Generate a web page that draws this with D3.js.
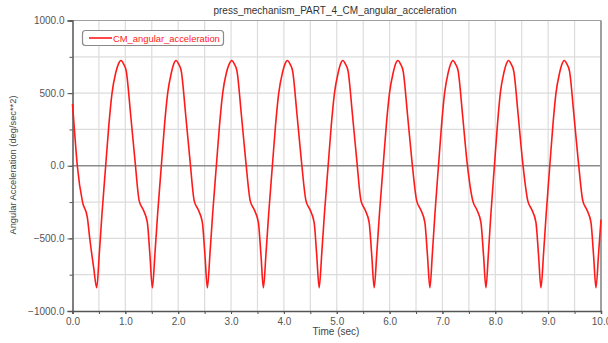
<!DOCTYPE html>
<html>
<head>
<meta charset="utf-8">
<script src="https://cdn.jsdelivr.net/npm/d3@7"></script>
<style>
  body { margin: 0; background: #fff; }
  svg { display: block; font-family: "Liberation Sans", Arial, sans-serif; }
</style>
</head>
<body>
<svg id="chart" width="608" height="343"></svg>
<script>
// values (time in sec, angular acceleration in deg/sec**2)
const times = [
  0.000, 0.040, 0.091, 0.190, 0.280, 0.330, 0.400, 0.458,
  0.508, 0.558, 0.628, 0.688, 0.748, 0.818, 0.868, 0.918,
  0.968, 1.018, 1.098, 1.183, 1.261, 1.341, 1.416, 1.466, 1.511,
  1.561, 1.611, 1.681, 1.741, 1.801, 1.871, 1.915, 1.959,
  2.009, 2.059, 2.139, 2.224, 2.302, 2.382, 2.457, 2.507, 2.552,
  2.602, 2.652, 2.722, 2.782, 2.842, 2.912, 2.965, 3.013,
  3.063, 3.113, 3.193, 3.278, 3.362, 3.442, 3.517, 3.567, 3.612,
  3.662, 3.712, 3.782, 3.842, 3.902, 3.972, 4.020, 4.066,
  4.116, 4.166, 4.246, 4.331, 4.417, 4.497, 4.572, 4.622, 4.667,
  4.717, 4.767, 4.837, 4.897, 4.957, 5.027, 5.071, 5.115,
  5.165, 5.215, 5.295, 5.380, 5.458, 5.538, 5.613, 5.663, 5.708,
  5.758, 5.808, 5.878, 5.938, 5.998, 6.068, 6.112, 6.157,
  6.207, 6.257, 6.337, 6.422, 6.512, 6.592, 6.667, 6.717, 6.762,
  6.810, 6.858, 6.925, 6.983, 7.040, 7.108, 7.155, 7.198,
  7.248, 7.298, 7.378, 7.463, 7.573, 7.653, 7.728, 7.778, 7.823,
  7.870, 7.917, 7.983, 8.040, 8.095, 8.162, 8.208, 8.250,
  8.300, 8.350, 8.430, 8.515, 8.614, 8.694, 8.769, 8.819, 8.864,
  8.914, 8.963, 9.031, 9.090, 9.148, 9.217, 9.262, 9.305,
  9.355, 9.405, 9.485, 9.570, 9.655, 9.735, 9.810, 9.860, 9.905,
  9.955, 10.000
];
const accel = [
  425, 230, 0, -250, -353, -511, -700, -840,
  -600, -330, 0, 280, 500, 640, 700, 725,
  700, 650, 360, 34, -240, -305, -390, -620, -840,
  -600, -330, 0, 280, 500, 640, 700, 725,
  700, 650, 360, 34, -240, -305, -390, -620, -840,
  -600, -330, 0, 280, 500, 640, 700, 725,
  700, 650, 360, 34, -240, -305, -390, -620, -840,
  -600, -330, 0, 280, 500, 640, 700, 725,
  700, 650, 360, 34, -240, -305, -390, -620, -840,
  -600, -330, 0, 280, 500, 640, 700, 725,
  700, 650, 360, 34, -240, -305, -390, -620, -840,
  -600, -330, 0, 280, 500, 640, 700, 725,
  700, 650, 360, 34, -240, -305, -390, -620, -840,
  -600, -330, 0, 280, 500, 640, 700, 725,
  700, 650, 360, 34, -240, -305, -390, -620, -840,
  -600, -330, 0, 280, 500, 640, 700, 725,
  700, 650, 360, 34, -240, -305, -390, -620, -840,
  -600, -330, 0, 280, 500, 640, 700, 725,
  700, 650, 360, 34, -240, -305, -390, -620, -840,
  -600, -370
];
const xTicks = [0, 1, 2, 3, 4, 5, 6, 7, 8, 9, 10];
const xMinor = [0, 0.5, 1, 1.5, 2, 2.5, 3, 3.5, 4, 4.5, 5, 5.5, 6, 6.5, 7, 7.5, 8, 8.5, 9, 9.5, 10];
const yTicks = [-1000, -500, 0, 500, 1000];
const yMinor = [-1000, -750, -500, -250, 0, 250, 500, 750, 1000];
const seriesName = "CM_angular_acceleration";
const title = "press_mechanism_PART_4_CM_angular_acceleration";

const svg = d3.select("#chart");
const mLeft = 72.5, mRight = 601, mTop = 20.5, mBottom = 311;

const x = d3.scaleLinear().domain([0, 10]).range([mLeft, mRight]);
const y = d3.scaleLinear().domain([-1000, 1000]).range([mBottom, mTop]);

// grid
svg.append("g").selectAll("line").data(xMinor.slice(1, -1)).join("line")
  .attr("x1", d => x(d)).attr("x2", d => x(d))
  .attr("y1", mTop).attr("y2", mBottom)
  .attr("stroke", "#dcdcdc").attr("stroke-width", 1.2);
svg.append("g").selectAll("line").data(yMinor.slice(1, -1)).join("line")
  .attr("x1", mLeft).attr("x2", mRight)
  .attr("y1", d => y(d)).attr("y2", d => y(d))
  .attr("stroke", d => d === 0 ? "#8c8c8c" : "#dcdcdc")
  .attr("stroke-width", d => d === 0 ? 1.4 : 1.2);

// frame top/right
svg.append("line").attr("x1", mLeft).attr("x2", mRight).attr("y1", mTop).attr("y2", mTop)
  .attr("stroke", "#a0a0a0").attr("stroke-width", 1.2);
svg.append("line").attr("x1", mRight).attr("x2", mRight).attr("y1", mTop).attr("y2", mBottom)
  .attr("stroke", "#a0a0a0").attr("stroke-width", 2);

// axes
svg.append("g").attr("transform", `translate(${mLeft},0)`)
  .call(d3.axisLeft(y).tickValues(yTicks).tickFormat(d3.format(".1f")).tickSize(5).tickPadding(3));
svg.append("g").attr("transform", `translate(${mLeft},0)`)
  .call(d3.axisLeft(y).tickValues(yMinor).tickFormat("").tickSize(3))
  .select(".domain").remove();
svg.append("g").attr("transform", `translate(0,${mBottom})`)
  .call(d3.axisBottom(x).tickValues(xTicks).tickFormat(d3.format(".1f")).tickSize(3).tickPadding(4));
svg.append("g").attr("transform", `translate(0,${mBottom})`)
  .call(d3.axisBottom(x).tickValues(xMinor).tickFormat("").tickSize(3))
  .select(".domain").remove();

svg.selectAll(".domain").attr("stroke", "#555").attr("stroke-width", 1.5);
svg.selectAll(".tick line").attr("stroke", "#555");
svg.selectAll(".tick text").attr("fill", "#555").style("font-size", "10px")
  .style("font-family", "'Liberation Sans', Arial, sans-serif");

// series
const pts = times.map((t, i) => [t, accel[i]]);
svg.append("path").datum(pts)
  .attr("fill", "none").attr("stroke", "#ff1a1a").attr("stroke-width", 1.6)
  .attr("stroke-linejoin", "round")
  .attr("d", d3.line().x(d => x(d[0])).y(d => y(d[1])).curve(d3.curveMonotoneX));

// title and labels
svg.append("text").attr("x", 335).attr("y", 14).attr("text-anchor", "middle")
  .attr("fill", "#333").style("font-size", "10px").text(title);
svg.append("text").attr("x", 336).attr("y", 335).attr("text-anchor", "middle")
  .attr("fill", "#444").style("font-size", "10px").text("Time (sec)");
svg.append("text").attr("transform", "translate(16,165) rotate(-90)").attr("text-anchor", "middle")
  .attr("fill", "#444").style("font-size", "9.3px").text("Angular Acceleration (deg/sec**2)");

// legend
const lg = svg.append("g");
lg.append("rect").attr("x", 82.5).attr("y", 30.5).attr("width", 141).attr("height", 15)
  .attr("rx", 3).attr("fill", "#fff").attr("stroke", "#8a8a8a").attr("stroke-width", 1.2);
lg.append("line").attr("x1", 89).attr("x2", 112).attr("y1", 38).attr("y2", 38)
  .attr("stroke", "#ff1a1a").attr("stroke-width", 1.6);
lg.append("text").attr("x", 113).attr("y", 41.5).attr("fill", "#ff1a1a")
  .style("font-size", "9.4px").text(seriesName);
</script>
</body>
</html>
